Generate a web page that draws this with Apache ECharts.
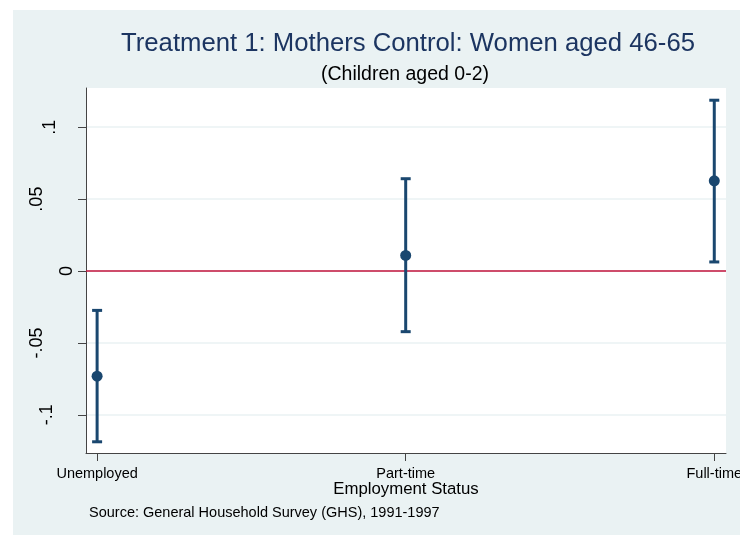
<!DOCTYPE html>
<html>
<head>
<meta charset="utf-8">
<script src="https://cdn.jsdelivr.net/npm/echarts@6/dist/echarts.min.js"></script>
<style>
  html, body { margin: 0; padding: 0; background: #ffffff; overflow: hidden; }
  #chart { width: 740px; height: 535px; }
</style>
</head>
<body>
<div id="chart"></div>
<script>
// ---- data ----
const categories = ['Unemployed', 'Part-time', 'Full-time'];
const estimates  = [-0.0732, 0.0108, 0.0627];
const lowerCI    = [-0.1188, -0.0422, 0.0063];
const upperCI    = [-0.0274, 0.0642, 0.1188];
const yTickValues = [-0.1, -0.05, 0, 0.05, 0.1];
const yTickLabels = ['-.1', '-.05', '0', '.05', '.1'];

const titleText = 'Treatment 1: Mothers Control: Women aged 46-65';
const subtitleText = '(Children aged 0-2)';
const xAxisTitle = 'Employment Status';
const sourceText = 'Source: General Household Survey (GHS), 1991-1997';

// ---- styling ----
const FONT = "'Liberation Sans', Arial, sans-serif";
const NAVY = '#1a476f';
const BG = '#eaf2f3';
// Stata-like offset of rotated y labels (style only)
const yLabelStyleKey = { '-.1': 'p3', '-.05': 'p2', '0': 'p0', '.05': 'p2', '.1': 'p1' };

const chart = echarts.init(document.getElementById('chart'), null, { renderer: 'canvas' });

const pointData = categories.map((c, i) => [i, estimates[i]]);
const barData = categories.map((c, i) => [i, lowerCI[i], upperCI[i]]);

const option = {
  backgroundColor: '#ffffff',
  animation: false,
  textStyle: { fontFamily: FONT },
  graphic: [
    {
      type: 'rect', z: -10, silent: true,
      shape: { x: 13, y: 10, width: 727, height: 525 },
      style: { fill: BG }
    }
  ],
  title: [
    {
      text: titleText, left: 408, top: 31, textAlign: 'center', padding: 0,
      textStyle: { fontFamily: FONT, fontSize: 25.7, fontWeight: 'normal', color: '#1c3561', lineHeight: 26 }
    },
    {
      text: subtitleText, left: 405, top: 65, textAlign: 'center', padding: 0,
      textStyle: { fontFamily: FONT, fontSize: 19.5, fontWeight: 'normal', color: '#000000', lineHeight: 20 }
    },
    {
      text: xAxisTitle, left: 406, top: 481, textAlign: 'center', padding: 0,
      textStyle: { fontFamily: FONT, fontSize: 16.8, fontWeight: 'normal', color: '#000000', lineHeight: 17 }
    },
    {
      text: sourceText, left: 89, top: 505, padding: 0,
      textStyle: { fontFamily: FONT, fontSize: 14.5, fontWeight: 'normal', color: '#000000', lineHeight: 15 }
    }
  ],
  grid: {
    left: 86, right: 14, top: 88, bottom: 82,
    containLabel: false,
    outerBoundsMode: 'none',
    show: true, backgroundColor: '#ffffff', borderWidth: 0
  },
  xAxis: {
    type: 'value', min: -0.036, max: 2.038,
    axisLine: { show: true, onZero: false, lineStyle: { color: '#444444', width: 1 } },
    axisTick: { show: true, length: 8, inside: false, customValues: categories.map((c, i) => i),
                lineStyle: { color: '#444444', width: 1 } },
    axisLabel: {
      show: true, customValues: categories.map((c, i) => i), margin: 13,
      fontFamily: FONT, fontSize: 14.5, color: '#000000', hideOverlap: false,
      formatter: v => categories[Math.round(v)] || ''
    },
    splitLine: { show: false }
  },
  yAxis: {
    type: 'value', min: -0.1266, max: 0.1273,
    axisLine: { show: true, onZero: false, lineStyle: { color: '#444444', width: 1 } },
    axisTick: { show: true, length: 8, inside: false, customValues: yTickValues,
                lineStyle: { color: '#444444', width: 1 } },
    axisLabel: {
      show: true, customValues: yTickValues, rotate: 90, margin: 10,
      fontFamily: FONT, fontSize: 18, color: '#000000',
      formatter: v => {
        const idx = yTickValues.findIndex(t => Math.abs(t - v) < 1e-9);
        const lab = idx >= 0 ? yTickLabels[idx] : '';
        return '{' + (yLabelStyleKey[lab] || 'p0') + '|' + lab + '}';
      },
      rich: {
        p0: { fontFamily: FONT, fontSize: 18, color: '#000', padding: [0, 0, 0, 0] },
        p1: { fontFamily: FONT, fontSize: 18, color: '#000', padding: [0, 0, 17, 0] },
        p2: { fontFamily: FONT, fontSize: 18, color: '#000', padding: [0, 0, 30, 0] },
        p3: { fontFamily: FONT, fontSize: 18, color: '#000', padding: [0, 0, 20, 0] }
      }
    },
    splitLine: { show: true, lineStyle: { color: BG, width: 1.5 } }
  },
  series: [
    {
      type: 'custom',
      z: 2,
      silent: true,
      data: barData,
      encode: { x: 0, y: [1, 2] },
      renderItem: function (params, api) {
        const x = api.value(0);
        const lo = api.coord([x, api.value(1)]);
        const hi = api.coord([x, api.value(2)]);
        const cap = 5;
        const st = { stroke: NAVY, lineWidth: 3 };
        return {
          type: 'group',
          children: [
            { type: 'line', shape: { x1: lo[0], y1: lo[1], x2: hi[0], y2: hi[1] }, style: st },
            { type: 'line', shape: { x1: lo[0] - cap, y1: lo[1], x2: lo[0] + cap, y2: lo[1] }, style: st },
            { type: 'line', shape: { x1: hi[0] - cap, y1: hi[1], x2: hi[0] + cap, y2: hi[1] }, style: st }
          ]
        };
      }
    },
    {
      type: 'scatter',
      z: 3,
      silent: true,
      symbol: 'circle',
      symbolSize: 11,
      itemStyle: { color: NAVY, opacity: 1 },
      data: pointData,
      markLine: {
        silent: true,
        symbol: ['none', 'none'],
        label: { show: false },
        lineStyle: { color: '#c3133c', width: 1.6, type: 'solid' },
        data: [{ yAxis: 0 }],
        z: 1
      }
    }
  ]
};

chart.setOption(option);
</script>
</body>
</html>
